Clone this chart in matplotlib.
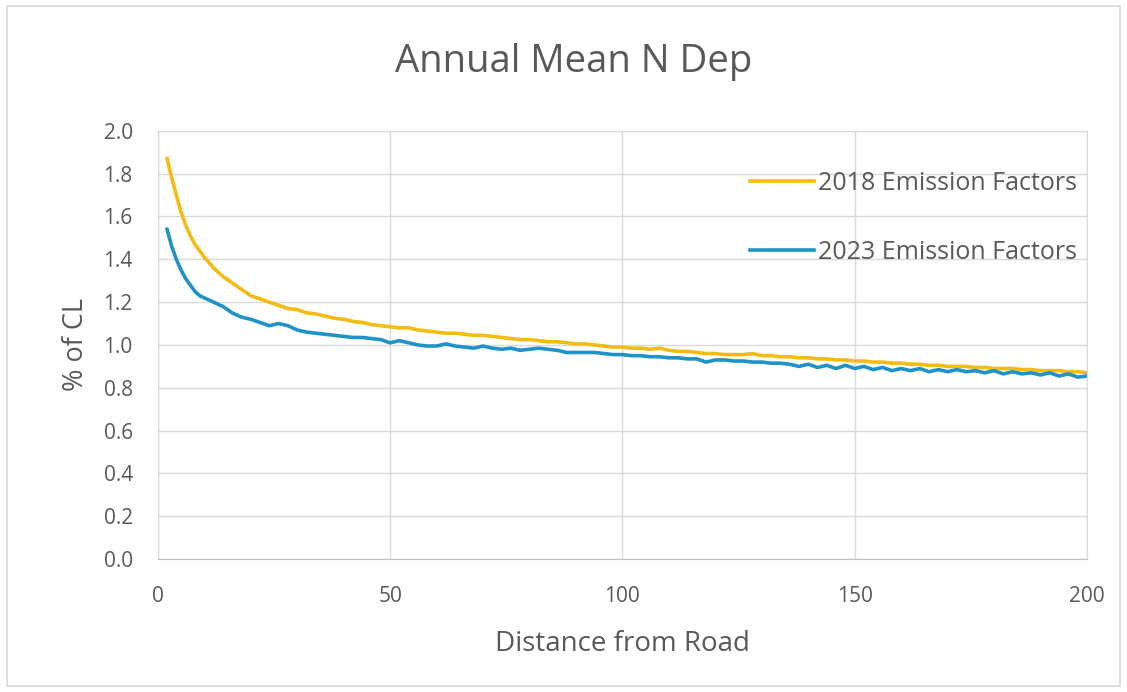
import matplotlib.pyplot as plt
from matplotlib.patches import Rectangle

plt.rcParams['font.family'] = ['Open Sans', 'DejaVu Sans']

# distance from road (m)
distance = [2, 3, 4, 5, 6, 7, 8, 9, 10, 12, 14, 16, 18,
            20, 22, 24, 26, 28, 30, 32, 34, 36, 38, 40, 42, 44, 46, 48, 50,
            52, 54, 56, 58, 60, 62, 64, 66, 68, 70, 72, 74, 76, 78, 80,
            82, 84, 86, 88, 90, 92, 94, 96, 98, 100, 102, 104, 106, 108, 110,
            112, 114, 116, 118, 120, 122, 124, 126, 128, 130, 132, 134, 136, 138, 140,
            142, 144, 146, 148, 150, 152, 154, 156, 158, 160, 162, 164, 166, 168, 170,
            172, 174, 176, 178, 180, 182, 184, 186, 188, 190, 192, 194, 196, 198, 200]

# % of critical load, 2018 emission factors
ef_2018 = [1.87, 1.78, 1.70, 1.62, 1.56, 1.51, 1.47, 1.44, 1.41, 1.36, 1.32, 1.29, 1.26,
           1.23, 1.215, 1.20, 1.185, 1.17, 1.165, 1.15, 1.145, 1.135, 1.125, 1.12, 1.11, 1.105, 1.095, 1.09, 1.085,
           1.08, 1.08, 1.07, 1.065, 1.06, 1.055, 1.055, 1.05, 1.045, 1.045, 1.04, 1.035, 1.03, 1.025, 1.025,
           1.02, 1.015, 1.015, 1.01, 1.005, 1.005, 1.00, 0.995, 0.99, 0.99, 0.985, 0.985, 0.98, 0.985, 0.975,
           0.97, 0.97, 0.965, 0.96, 0.96, 0.955, 0.955, 0.955, 0.96, 0.95, 0.95, 0.945, 0.945, 0.94, 0.94,
           0.935, 0.935, 0.93, 0.93, 0.925, 0.925, 0.92, 0.92, 0.915, 0.915, 0.91, 0.91, 0.905, 0.905, 0.90,
           0.90, 0.90, 0.895, 0.895, 0.89, 0.89, 0.89, 0.885, 0.885, 0.88, 0.88, 0.88, 0.875, 0.875, 0.87]

# % of critical load, 2023 emission factors
ef_2023 = [1.54, 1.46, 1.40, 1.35, 1.31, 1.28, 1.25, 1.23, 1.22, 1.20, 1.18, 1.15, 1.13,
           1.12, 1.105, 1.09, 1.10, 1.09, 1.07, 1.06, 1.055, 1.05, 1.045, 1.04, 1.035, 1.035, 1.03, 1.025, 1.01,
           1.02, 1.01, 1.00, 0.995, 0.995, 1.005, 0.995, 0.99, 0.985, 0.995, 0.985, 0.98, 0.985, 0.975, 0.98,
           0.985, 0.98, 0.975, 0.965, 0.965, 0.965, 0.965, 0.96, 0.955, 0.955, 0.95, 0.95, 0.945, 0.945, 0.94,
           0.94, 0.935, 0.935, 0.92, 0.93, 0.93, 0.925, 0.925, 0.92, 0.92, 0.915, 0.915, 0.91, 0.90, 0.91,
           0.895, 0.905, 0.89, 0.905, 0.89, 0.90, 0.885, 0.895, 0.88, 0.89, 0.88, 0.89, 0.875, 0.885, 0.875,
           0.885, 0.875, 0.88, 0.87, 0.88, 0.865, 0.875, 0.865, 0.87, 0.86, 0.87, 0.855, 0.865, 0.85, 0.855]

x_ticks = [0, 50, 100, 150, 200]
y_ticks = [0.0, 0.2, 0.4, 0.6, 0.8, 1.0, 1.2, 1.4, 1.6, 1.8, 2.0]

text_grey = '#595959'
grid_grey = '#d9d9d9'

fig = plt.figure(figsize=(11.27, 6.92), dpi=100)
fig.patches.append(Rectangle((0.006, 0.008), 0.988, 0.984, transform=fig.transFigure,
                             fill=False, edgecolor=grid_grey, linewidth=1.2))
ax = fig.add_axes([0.140, 0.192, 0.8245, 0.619])

ax.plot(distance, ef_2018, color='#f2bc14', linewidth=2.6, label='2018 Emission Factors')
ax.plot(distance, ef_2023, color='#1f93c8', linewidth=2.6, label='2023 Emission Factors')

ax.set_xlim(0, 200)
ax.set_ylim(0, 2.0)
ax.set_xticks(x_ticks)
ax.set_yticks(y_ticks)
ax.set_yticklabels([f'{v:.1f}' for v in y_ticks])
ax.tick_params(length=0, labelsize=15, colors=text_grey)
ax.tick_params(axis='x', pad=19)
ax.tick_params(axis='y', pad=18)
ax.grid(color=grid_grey, linewidth=1)
ax.set_axisbelow(True)
for side in ['top', 'right', 'left']:
    ax.spines[side].set_color(grid_grey)
ax.spines['bottom'].set_color('#bfbfbf')

# title sits centred on the whole chart, not the plot area
fig.text(0.509, 0.910, 'Annual Mean N Dep', fontsize=27.5, color=text_grey,
         ha='center', va='center')
ax.set_xlabel('Distance from Road', fontsize=20, color=text_grey, labelpad=17)
ax.set_ylabel('% of CL', fontsize=19.5, color=text_grey, labelpad=10)

leg = ax.legend(loc='upper right', bbox_to_anchor=(1.0, 0.93), frameon=False,
                borderaxespad=0, fontsize=18, labelspacing=1.75,
                handlelength=2.55, handletextpad=0.17)
for t in leg.get_texts():
    t.set_color(text_grey)

fig.savefig('out.png', dpi=100)
